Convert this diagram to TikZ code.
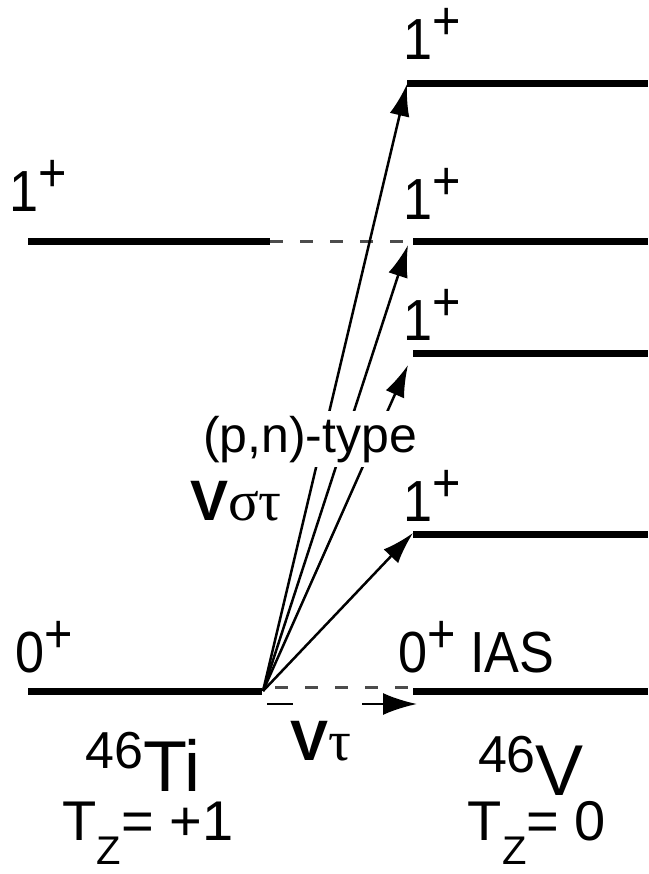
\documentclass[tikz,border=0pt]{standalone}
\usepackage{fontspec}
\setmainfont{Liberation Sans}
\newfontfamily\grk{Liberation Serif}
\newfontfamily\lblfont[FakeStretch=0.9]{Liberation Sans}
\usetikzlibrary{arrows.meta}
\newcommand\lvlsup[1]{\raisebox{20pt}[40pt][0pt]{\fontsize{54}{54}\selectfont #1}}
\newcommand\zsub{\raisebox{-24pt}{\fontsize{40}{40}\selectfont Z}}
\newcommand\isosup[1]{\raisebox{23pt}{\fontsize{52}{52}\selectfont #1}}
\begin{document}
\begin{tikzpicture}[x=1pt,y=-1pt,
  level/.style={line width=7pt},
  trans/.style={line width=2.5pt,-{Latex[length=32pt,width=20pt]}},
  gdash/.style={line width=3pt,draw=black!70,dash pattern=on 13pt off 17pt},
  lbl/.style={inner sep=0pt,anchor=base west,font=\lblfont\fontsize{58}{62}\selectfont},
  txt/.style={inner sep=0pt,anchor=base,font=\fontsize{52}{56}\selectfont},
  iso/.style={inner sep=0pt,anchor=base,text depth=0pt,font=\fontsize{72}{76}\selectfont},
  tz/.style={inner sep=0pt,anchor=base,font=\fontsize{56}{60}\selectfont}]
\useasboundingbox (0,0) rectangle (648,874);
% level end points
\coordinate (gL1) at (28,691);  \coordinate (gL2) at (262,691);
\coordinate (eL1) at (28,242);  \coordinate (eL2) at (270,242);
\coordinate (r1a) at (407,84);  \coordinate (r1b) at (648,84);
\coordinate (r2a) at (413,242); \coordinate (r2b) at (648,242);
\coordinate (r3a) at (413,353); \coordinate (r3b) at (648,353);
\coordinate (r4a) at (413,534); \coordinate (r4b) at (648,534);
\coordinate (r0a) at (413,691); \coordinate (r0b) at (648,691);
% levels
\foreach \a/\b in {gL1/gL2,eL1/eL2,r1a/r1b,r2a/r2b,r3a/r3b,r4a/r4b,r0a/r0b}
  \draw[level] (\a) -- (\b);
% dashed connections
\draw[gdash] (eL2) -- (r2a);
\coordinate (d1) at (275,687); \coordinate (d2) at (413,687);
\draw[gdash] (d1) -- (d2);
% arrows
\coordinate (o) at (263,691);
\coordinate (t1) at (407,84);
\coordinate (t2) at (408,245);
\coordinate (t3) at (408,365);
\coordinate (t4) at (413,533);
\foreach \t in {t1,t2,t3,t4} \draw[trans] (o) -- (\t);
\coordinate (v1) at (267,704); \coordinate (v2) at (417,704);
\draw[line width=2.5pt,dash pattern=on 26pt off 69pt,-{Latex[length=34pt,width=22pt]}] (v1) -- (v2);
% labels
\node[lbl] (l1) at (403,60) {1\lvlsup{+}};
\node[lbl] (l2) at (403,220) {1\lvlsup{+}};
\node[lbl] (l3) at (403,340) {1\lvlsup{+}};
\node[lbl] (l4) at (403,521) {1\lvlsup{+}};
\node[lbl] (lL) at (9,212) {1\lvlsup{+}};
\node[lbl] (l0L) at (15,672) {0\lvlsup{+}};
\node[lbl] (l0R) at (398,672) {0\lvlsup{+} IAS};
\node[txt,fill=white,inner sep=5pt,font=\fontsize{50}{54}\selectfont] (pn) at (310,452) {(p,n)-type};
\node[txt,font=\fontsize{57}{60}\selectfont] (vst) at (236,520) {\textbf{V}{\grk στ}};
\node[txt,font=\fontsize{57}{60}\selectfont] (vt) at (321,760) {\textbf{V}{\grk τ}};
\node[iso] (ti) at (143,791) {\isosup{46}Ti};
\node[tz] (tzl) at (148,840) {T\zsub= +1};
\node[iso] (vv) at (531,795) {\isosup{46}V};
\node[tz] (tzr) at (537,840) {T\zsub= 0};
\end{tikzpicture}
\end{document}
